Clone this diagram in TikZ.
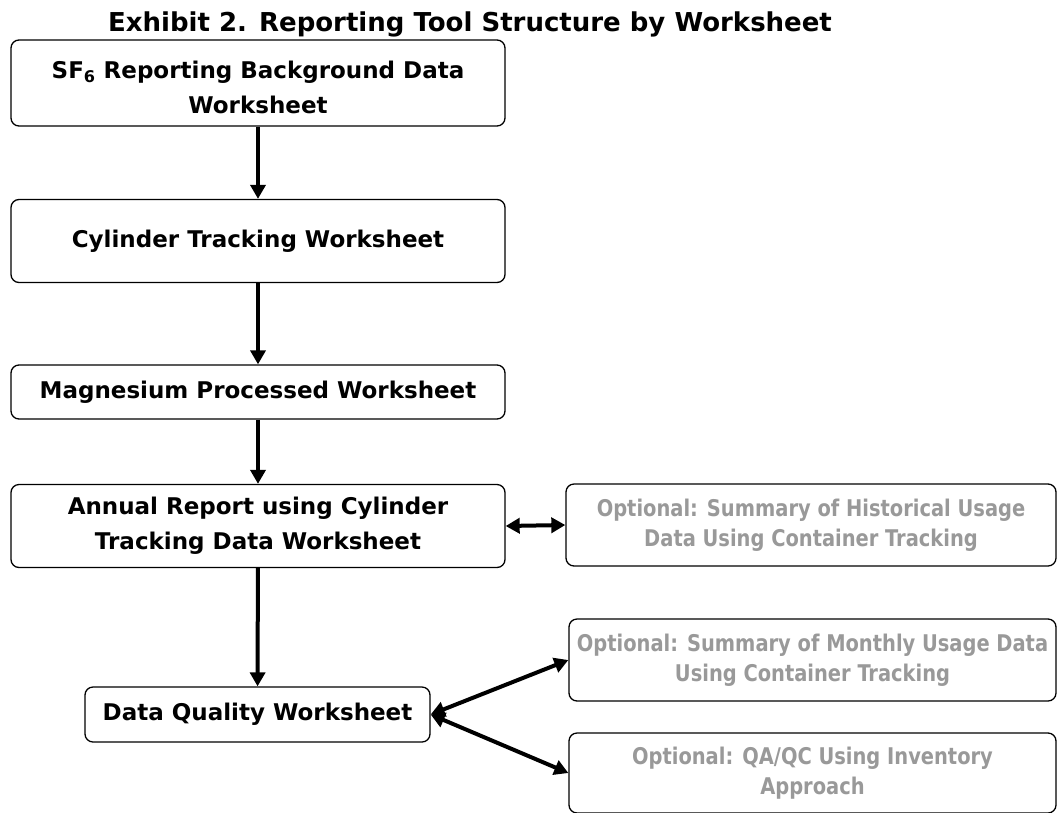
\documentclass[tikz,border=0pt]{standalone}
\usepackage{fontspec}
\setmainfont{DejaVu Sans}
\newfontfamily\condfont[FakeStretch=0.94]{DejaVu Sans Condensed}
\usetikzlibrary{arrows.meta}
\definecolor{optgray}{RGB}{153,153,153}
\tikzset{
  box/.style={draw=black, line width=1.3pt, rounded corners=8pt, inner sep=0pt,
    align=center, font=\fontsize{23}{35}\selectfont\bfseries, text=black},
  optbox/.style={box, font=\condfont\fontsize{23}{29.5}\selectfont\bfseries, text=optgray},
  flow/.style={line width=4pt, -{Triangle[length=14pt,width=15pt]}},
  both/.style={line width=4pt, {Triangle[length=14pt,width=15pt]}-{Triangle[length=14pt,width=15pt]}},
  titletext/.style={font=\fontsize{26}{30}\selectfont\bfseries, inner sep=0pt}
}
\begin{document}
\begin{tikzpicture}[x=1pt,y=-1pt]
\useasboundingbox (0,0) rectangle (1057,812);
\node[titletext] (title) at (470,24) {Exhibit 2. Reporting Tool Structure by Worksheet};
\node[box, minimum width=494pt, minimum height=86pt] (b1) at (258,83)
  {\rule{0pt}{26pt}SF\textsubscript{6} Reporting Background Data\\Worksheet};
\node[box, minimum width=494pt, minimum height=83pt] (b2) at (258,241)
  {Cylinder Tracking Worksheet};
\node[box, minimum width=494pt, minimum height=54pt] (b3) at (258,392)
  {Magnesium Processed Worksheet};
\node[box, minimum width=494pt, minimum height=83pt] (b4) at (258,526)
  {Annual Report using Cylinder\\Tracking Data Worksheet};
\node[box, minimum width=345pt, minimum height=55pt] (b5) at (257.5,714.5)
  {Data Quality Worksheet};
\node[optbox, minimum width=490pt, minimum height=82pt] (o1) at (811,525)
  {Optional: Summary of Historical Usage\\Data Using Container Tracking};
\node[optbox, minimum width=487pt, minimum height=82pt] (o2) at (812.5,660)
  {Optional: Summary of Monthly Usage Data\\Using Container Tracking};
\node[optbox, minimum width=487pt, minimum height=80pt] (o3) at (812.5,773)
  {Optional: QA/QC Using Inventory\\Approach};
\draw[flow] (b1) -- (b2);
\draw[flow] (b2) -- (b3);
\draw[flow] (b3) -- (b4);
\draw[flow] (b4) -- (b5);
\draw[both] (b4.east) -- (o1.west);
\draw[both] (b5.east) -- (o2.west);
\draw[both] (b5.east) -- (o3.west);
\end{tikzpicture}
\end{document}
